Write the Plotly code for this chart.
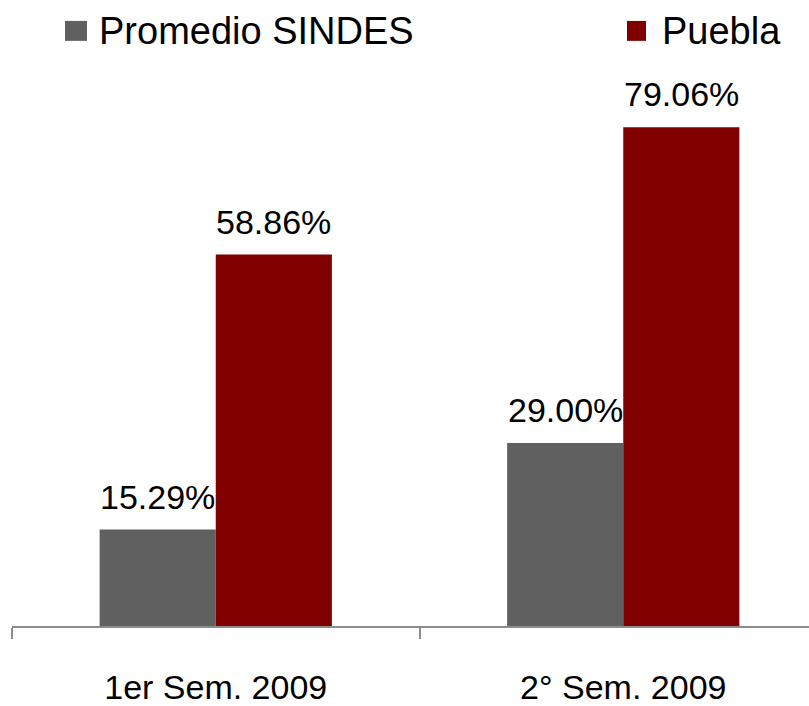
import plotly.graph_objects as go

categories = ["1er Sem. 2009", "2° Sem. 2009"]
series_names = ["Promedio SINDES", "Puebla"]
sindes_values = [15.29, 29.00]
puebla_values = [58.86, 79.06]
series_colors = ["#606060", "#800000"]

W, H = 809, 706
ML, MR, MT, MB = 12, 0, 0, 78
PW, PH = W - ML - MR, H - MT - MB
CAT_PX = 407.5
BARGAP = 0.43
BAR_PX = CAT_PX * (1 - BARGAP) / 2
FONT = "Liberation Sans, Arial"

def px2paper_x(px):
    return (px - ML) / PW

def px2paper_y(py):
    return 1 - (py - MT) / PH

fig = go.Figure()
annotations = []
all_vals = [sindes_values, puebla_values]
for i, (name, vals, col) in enumerate(zip(series_names, all_vals, series_colors)):
    fig.add_trace(go.Bar(
        x=categories, y=vals, name=name,
        marker=dict(color=col, line=dict(width=0)),
        showlegend=False,
    ))
    for cat, v in zip(categories, vals):
        annotations.append(dict(
            x=cat, y=v, xref="x", yref="y",
            text=f"{v:.2f}%", showarrow=False,
            xanchor="center", yanchor="bottom",
            xshift=(i - 0.5) * BAR_PX, yshift=12,
            font=dict(family=FONT, size=34, color="#000000"),
        ))

# legend drawn as squares + text
legend_items = [
    (series_names[0], series_colors[0], 65, 87, 97),
    (series_names[1], series_colors[1], 627, 646, 660),
]
shapes = []
for name, col, x0, x1, tx in legend_items:
    shapes.append(dict(type="rect", xref="paper", yref="paper",
                       x0=px2paper_x(x0), x1=px2paper_x(x1),
                       y0=px2paper_y(41), y1=px2paper_y(21),
                       fillcolor=col, line=dict(width=0)))
    annotations.append(dict(text=name, xref="paper", yref="paper",
                            x=px2paper_x(tx), y=px2paper_y(31),
                            xanchor="left", yanchor="middle", showarrow=False,
                            font=dict(family=FONT, size=38, color="#000000")))

fig.update_layout(
    width=W, height=H,
    margin=dict(l=ML, r=MR, t=MT, b=MB, pad=0),
    paper_bgcolor="white", plot_bgcolor="white",
    barmode="group", bargap=BARGAP, bargroupgap=0,
    shapes=shapes, annotations=annotations,
    showlegend=False,
    font=dict(family=FONT, color="#000000"),
)
fig.update_xaxes(
    type="category",
    range=[-0.5, -0.5 + PW / CAT_PX],
    showline=True, linecolor="#8c8c8c", linewidth=2,
    ticks="outside", ticklen=11, tickwidth=2, tickcolor="#8c8c8c",
    tickson="boundaries",
    tickfont=dict(family=FONT, size=34, color="#000000"),
    ticklabelstandoff=30,
    showgrid=False, zeroline=False,
)
fig.update_yaxes(
    range=[0, PH / 6.33],
    visible=False, showgrid=False, zeroline=False,
)

fig.write_html("out.html", config={"displayModeBar": False})
with open("out.html", "r", encoding="utf-8") as f:
    html = f.read()
html = html.replace("<head>", "<head><style>html,body{margin:0;padding:0;overflow:hidden;}</style>", 1)
with open("out.html", "w", encoding="utf-8") as f:
    f.write(html)
